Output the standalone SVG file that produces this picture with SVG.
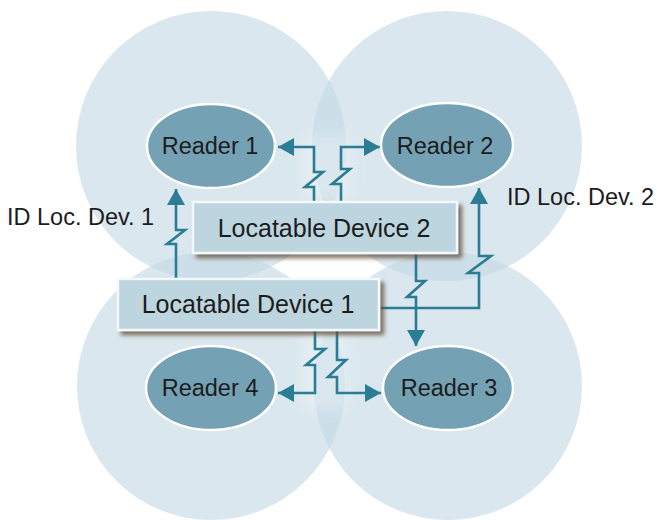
<svg xmlns="http://www.w3.org/2000/svg" width="657" height="520" viewBox="0 0 657 520">
<style>
.zone{fill:#c4d9e3;fill-opacity:0.62}
.reader ellipse{fill:#74a1b4;stroke:#ffffff;stroke-width:2.5}
.lbl{font-family:"Liberation Sans",Arial,sans-serif;font-size:23.5px;fill:#1c1c1c;text-anchor:middle}
.box .lbl{font-size:25px}
.side{font-family:"Liberation Sans",Arial,sans-serif;font-size:23.5px;fill:#1c1c1c}
.box rect{fill:#bdd5df;stroke:#f4f8fa;stroke-width:2.5}
.conn{fill:none;stroke:#2b7c95;stroke-width:2.6;stroke-linejoin:miter}
</style>
<defs>
<marker id="ah" markerUnits="userSpaceOnUse" markerWidth="18" markerHeight="18" refX="16" refY="9" orient="auto">
<path d="M0,0 L16,9 L0,18 Z" fill="#2b7c95"/>
</marker>
<filter id="sh" x="-10%" y="-20%" width="130%" height="160%">
<feDropShadow dx="4" dy="4" stdDeviation="2" flood-color="#5e4c33" flood-opacity="0.75"/>
</filter>
<filter id="glow" x="-50%" y="-50%" width="200%" height="200%">
<feGaussianBlur stdDeviation="7"/>
</filter>
</defs>
<rect width="657" height="520" fill="#ffffff"/>
<g id="zones">
<circle class="zone" cx="211" cy="146" r="135"/>
<circle class="zone" cx="447" cy="146" r="135"/>
<circle class="zone" cx="211" cy="386" r="134"/>
<circle class="zone" cx="448" cy="386" r="134"/>
</g>
<g id="glows" fill="#ffffff" opacity="0.28" filter="url(#glow)">
<rect x="302" y="135" width="50" height="65"/>
<rect x="302" y="332" width="46" height="78"/>
</g>
<g id="connectors">
<path class="conn" marker-end="url(#ah)" d="M176,279 L176,244 L167,244 L185,230 L176,230 L176,189"/>
<path class="conn" marker-end="url(#ah)" d="M314,202 L314,187 L305,187 L323,172 L314,172 L314,147 L278,147"/>
<path class="conn" marker-end="url(#ah)" d="M341,202 L341,184 L332,184 L350,169 L341,169 L341,147 L380,147"/>
<path class="conn" marker-end="url(#ah)" d="M416,253 L416,281 L425,281 L407,297 L416,297 L416,346"/>
<path class="conn" marker-end="url(#ah)" d="M380,308 L479,308 L479,273 L468,273 L491,256 L479,256 L479,188"/>
<path class="conn" marker-end="url(#ah)" d="M315,330 L315,349 L325,349 L306,365 L315,365 L315,393 L278,393"/>
<path class="conn" marker-end="url(#ah)" d="M337,330 L337,360 L346,360 L328,377 L337,377 L337,393 L381,393"/>
</g>
<g id="reader1" class="reader">
<ellipse cx="211" cy="146" rx="64" ry="42"/>
<text class="lbl" x="210" y="154">Reader 1</text>
</g>
<g id="reader2" class="reader">
<ellipse cx="447" cy="145" rx="66" ry="42"/>
<text class="lbl" x="445" y="154">Reader 2</text>
</g>
<g id="reader4" class="reader">
<ellipse cx="211" cy="388" rx="65" ry="42"/>
<text class="lbl" x="210" y="396">Reader 4</text>
</g>
<g id="reader3" class="reader">
<ellipse cx="448" cy="388" rx="65" ry="42"/>
<text class="lbl" x="449" y="396">Reader 3</text>
</g>
<g id="device2" class="box">
<rect x="193" y="202" width="264" height="51" filter="url(#sh)"/>
<text class="lbl" x="324" y="237">Locatable Device 2</text>
</g>
<g id="device1" class="box">
<rect x="118" y="279" width="261" height="51" filter="url(#sh)"/>
<text class="lbl" x="248" y="313">Locatable Device 1</text>
</g>
<g id="labels">
<text class="side" x="7" y="225">ID Loc. Dev. 1</text>
<text class="side" x="507" y="205">ID Loc. Dev. 2</text>
</g>
</svg>
